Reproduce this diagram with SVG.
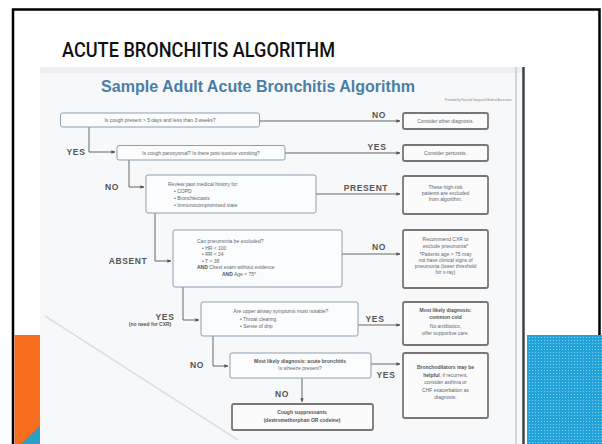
<svg xmlns="http://www.w3.org/2000/svg" width="602" height="444" viewBox="0 0 602 444">
<defs>
<pattern id="dots" width="3" height="3" patternUnits="userSpaceOnUse">
<rect width="3" height="3" fill="#23a2d8"/>
<rect x="1" y="1" width="1" height="1" fill="#7fcdef"/>
</pattern>
<marker id="ah" viewBox="0 0 6 6" refX="5.5" refY="3" markerWidth="4" markerHeight="4" orient="auto" markerUnits="userSpaceOnUse">
<path d="M0,0.5 L6,3 L0,5.5 Z" fill="#555"/>
</marker>
<style>
.dec{fill:#fbfcfd;stroke:#8d9fae;stroke-width:1}
.res{fill:#fbfbfb;stroke:#777;stroke-width:1.8}
.t{font-family:"Liberation Sans",Arial,sans-serif;font-size:5px;fill:#62676d}
.c{text-anchor:middle}
.b{font-weight:bold;fill:#555}
.lab{font-family:"Liberation Sans",Arial,sans-serif;font-size:8.5px;font-weight:bold;fill:#555;text-anchor:middle;letter-spacing:0.6px}
.con{fill:none;stroke:#666;stroke-width:1;marker-end:url(#ah)}
</style>
</defs>
<rect width="602" height="444" fill="#ffffff"/>
<!-- slide frame -->
<path d="M13,444 V9.5 H599.5 V336" fill="none" stroke="#000" stroke-width="2.5"/>
<text x="62" y="57" font-family="Roboto,'Liberation Sans',Arial,sans-serif" font-size="20" font-weight="500" fill="#111" textLength="273" lengthAdjust="spacingAndGlyphs">ACUTE BRONCHITIS ALGORITHM</text>
<!-- scanned page -->
<rect x="40" y="67" width="483" height="377" fill="#f7f8fa"/>
<rect x="40" y="67" width="483" height="6" fill="#eceef1"/>
<line x1="516" y1="67" x2="516" y2="444" stroke="#d2d6dc" stroke-width="2"/>
<line x1="523.5" y1="67" x2="523.5" y2="444" stroke="#3d424c" stroke-width="2.5"/>
<line x1="45" y1="316" x2="238" y2="440" stroke="#dcdfe3" stroke-width="1.5"/>
<!-- decorative blocks -->
<rect x="14.5" y="335" width="25.5" height="109" fill="#f66d1d"/>
<polygon points="21,444 40,426 40,444" fill="#2a9ec4"/>
<rect x="527" y="335" width="75" height="109" fill="url(#dots)"/>
<text x="258" y="92" text-anchor="middle" font-family="'Liberation Sans',Arial,sans-serif" font-size="17" font-weight="bold" fill="#4b7ea6" textLength="314" lengthAdjust="spacingAndGlyphs">Sample Adult Acute Bronchitis Algorithm</text>
<text x="512" y="101" text-anchor="end" font-family="'Liberation Sans',Arial,sans-serif" font-size="3" fill="#888">Provided by Harvard Vanguard Medical Associates</text>

<g id="connectors">
<line class="con" x1="260" y1="121" x2="400" y2="121"/>
<path class="con" d="M89,127 V152 H115"/>
<line class="con" x1="285" y1="153" x2="400" y2="153"/>
<path class="con" d="M129,160 V187 H144"/>
<line class="con" x1="316" y1="194" x2="400" y2="194"/>
<path class="con" d="M155,213 V261 H171"/>
<line class="con" x1="342" y1="254" x2="400" y2="254"/>
<path class="con" d="M183,287 V320 H199"/>
<line class="con" x1="358" y1="325" x2="400" y2="325"/>
<path class="con" d="M213,336 V366 H228"/>
<line class="con" x1="371" y1="364" x2="400" y2="364"/>
<line class="con" x1="302" y1="378" x2="302" y2="402"/>
<text class="lab" x="379" y="118">NO</text>
<text class="lab" x="76" y="155">YES</text>
<text class="lab" x="377" y="150">YES</text>
<text class="lab" x="112" y="190">NO</text>
<text class="lab" x="366" y="191">PRESENT</text>
<text class="lab" x="128" y="264">ABSENT</text>
<text class="lab" x="379" y="250">NO</text>
<text class="lab" x="165" y="320">YES</text>
<text class="t b c" x="150" y="326" font-size="4.6">(no need for CXR)</text>
<text class="lab" x="375" y="322">YES</text>
<text class="lab" x="197" y="368">NO</text>
<text class="lab" x="386" y="378">YES</text>
<text class="lab" x="282" y="397">NO</text>
</g>

<g id="q1"><rect class="dec" x="60.5" y="113" width="199" height="14" rx="2"/>
<text class="t c" x="160" y="122">Is cough present &gt; 5 days and less than 3 weeks?</text></g>
<g id="r1"><rect class="res" x="403" y="113" width="85" height="16" rx="2"/>
<text class="t c" x="445.5" y="122.8">Consider other diagnosis.</text></g>

<g id="q2"><rect class="dec" x="117" y="145.5" width="168" height="14.5" rx="2"/>
<text class="t c" x="201" y="154.5">Is cough paroxysmal? Is there post-tussive vomiting?</text></g>
<g id="r2"><rect class="res" x="403" y="145" width="85" height="16" rx="2"/>
<text class="t c" x="445.5" y="154.8">Consider pertussis.</text></g>

<g id="q3"><rect class="dec" x="146" y="175" width="170" height="38" rx="2"/>
<text class="t" x="168" y="186">Review past medical history for:</text>
<text class="t" x="174" y="193">•  COPD</text>
<text class="t" x="174" y="200">•  Bronchiectasis</text>
<text class="t" x="174" y="207">•  Immunocompromised state</text></g>
<g id="r3"><rect class="res" x="403" y="176" width="85" height="38" rx="2"/>
<text class="t c" x="445.5" y="189">These high-risk</text>
<text class="t c" x="445.5" y="195">patients are excluded</text>
<text class="t c" x="445.5" y="201">from algorithm.</text></g>

<g id="q4"><rect class="dec" x="173" y="230" width="169" height="57" rx="2"/>
<text class="t" x="197" y="243">Can pneumonia be excluded?</text>
<text class="t" x="202" y="249.5">•  HR &lt; 100</text>
<text class="t" x="202" y="256">•  RR &lt; 24</text>
<text class="t" x="202" y="262.5">•  T &lt; 38</text>
<text class="t" x="197" y="269"><tspan class="b">AND</tspan> Chest exam without evidence</text>
<text class="t" x="222" y="276"><tspan class="b">AND</tspan> Age &lt; 75*</text></g>
<g id="r4"><rect class="res" x="403" y="230" width="85" height="58" rx="2"/>
<text class="t c" x="445.5" y="241">Recommend CXR to</text>
<text class="t c" x="445.5" y="247.5">exclude pneumonia*</text>
<text class="t c" x="445.5" y="256" font-size="4.3">*Patients age &gt; 75 may</text>
<text class="t c" x="445.5" y="262" font-size="4.3">not have clinical signs of</text>
<text class="t c" x="445.5" y="268" font-size="4.3">pneumonia (lower threshold</text>
<text class="t c" x="445.5" y="274" font-size="4.3">for x-ray)</text></g>

<g id="q5"><rect class="dec" x="201" y="302" width="157" height="34" rx="2"/>
<text class="t c" x="281" y="313">Are upper airway symptoms most notable?</text>
<text class="t" x="240" y="320.5">•  Throat clearing</text>
<text class="t" x="240" y="328">•  Sense of drip</text></g>
<g id="r5"><rect class="res" x="403" y="302" width="85" height="43" rx="2"/>
<text class="t c b" x="445.5" y="312">Most likely diagnosis:</text>
<text class="t c b" x="445.5" y="318.5">common cold</text>
<text class="t c" x="445.5" y="328">No antibiotics,</text>
<text class="t c" x="445.5" y="335">offer supportive care.</text></g>

<g id="q6"><rect class="dec" x="230" y="353" width="141" height="25" rx="2"/>
<text class="t c b" x="300" y="362.5">Most likely diagnosis: acute bronchitis</text>
<text class="t c" x="300" y="369.5">Is wheeze present?</text></g>
<g id="r6"><rect class="res" x="403" y="353" width="85" height="65" rx="2"/>
<text class="t c b" x="445.5" y="369">Bronchodilators may be</text>
<text class="t c" x="445.5" y="376.5"><tspan class="b">helpful</tspan>, if recurrent,</text>
<text class="t c" x="445.5" y="384">consider asthma or</text>
<text class="t c" x="445.5" y="391.5">CHF exacerbation as</text>
<text class="t c" x="445.5" y="399">diagnosis.</text></g>

<g id="r7"><rect class="res" x="232" y="404" width="141" height="26" rx="2"/>
<text class="t c b" x="302" y="414">Cough suppressants</text>
<text class="t c b" x="302" y="422">(dextromethorphan OR codeine)</text></g>
</svg>
